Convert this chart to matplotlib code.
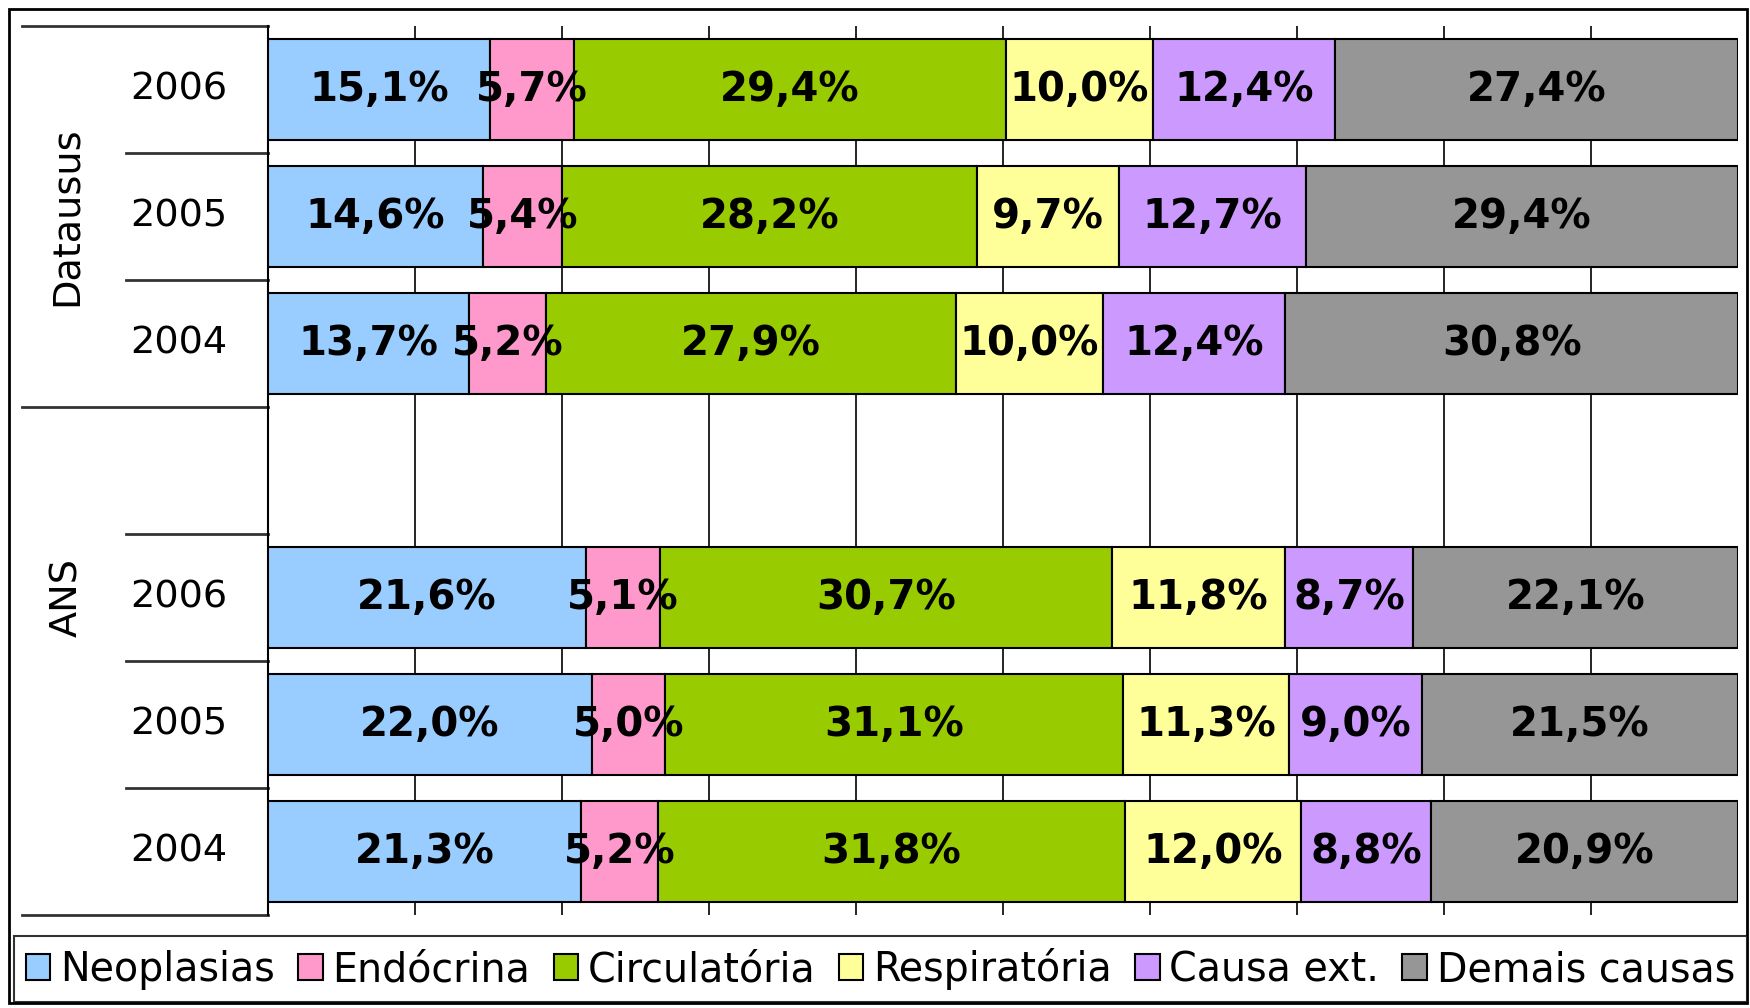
import matplotlib.pyplot as plt
from matplotlib.patches import Rectangle

plt.rcParams['font.family'] = ['DejaVu Sans']

causes = ['Neoplasias', 'Endócrina', 'Circulatória', 'Respiratória', 'Causa ext.', 'Demais causas']
colors = ['#99CCFF', '#FF99CC', '#99CC00', '#FFFF99', '#CC99FF', '#969696']

groups = ['Datausus', 'ANS']
years = ['2006', '2005', '2004']

# valores em %, uma lista por linha (de cima para baixo)
datasus_2006 = [15.1, 5.7, 29.4, 10.0, 12.4, 27.4]
datasus_2005 = [14.6, 5.4, 28.2, 9.7, 12.7, 29.4]
datasus_2004 = [13.7, 5.2, 27.9, 10.0, 12.4, 30.8]
ans_2006 = [21.6, 5.1, 30.7, 11.8, 8.7, 22.1]
ans_2005 = [22.0, 5.0, 31.1, 11.3, 9.0, 21.5]
ans_2004 = [21.3, 5.2, 31.8, 12.0, 8.8, 20.9]

# linha 3 fica vazia (separa os grupos)
rows = {0: datasus_2006, 1: datasus_2005, 2: datasus_2004,
        4: ans_2006, 5: ans_2005, 6: ans_2004}

W, H = 1750, 1008
fig = plt.figure(figsize=(W / 100, H / 100), dpi=100)
fig.patches.append(Rectangle((9 / W, 5 / H), 1738 / W, 994 / H, transform=fig.transFigure,
                             fill=False, edgecolor='black', linewidth=2))

left, right, top, bottom = 268, 1738, 26, 915
ax = fig.add_axes([left / W, 1 - bottom / H, (right - left) / W, (bottom - top) / H])

for ypos, vals in rows.items():
    total = sum(vals)
    start = 0
    for val, col in zip(vals, colors):
        w = val / total * 100
        ax.barh(ypos, w, left=start, height=0.8, color=col, edgecolor='black', linewidth=1.5, zorder=3)
        ax.text(start + w / 2, ypos, f"{val:.1f}%".replace('.', ','), ha='center', va='center',
                fontsize=29, fontweight='bold', zorder=4)
        start += w

ax.set_xlim(0, 100)
ax.set_ylim(6.5, -0.5)
for x in range(10, 100, 10):
    ax.axvline(x, color='black', linewidth=1.2, zorder=1)
ax.set_xticks([])
ax.set_yticks([])
for s in ['top', 'right', 'bottom']:
    ax.spines[s].set_visible(False)
ax.spines['left'].set_linewidth(1.5)

# rótulos hierárquicos à esquerda
tr = ax.get_yaxis_transform()
x_outer = (22 - left) / (right - left)
x_inner = (126 - left) / (right - left)
for yb in [-0.5, 2.5, 6.5]:
    ax.plot([x_outer, 0], [yb, yb], transform=tr, color='#333333', linewidth=2, clip_on=False)
for yb in [0.5, 1.5, 3.5, 4.5, 5.5]:
    ax.plot([x_inner, 0], [yb, yb], transform=tr, color='#333333', linewidth=2, clip_on=False)

x_year = (179 - left) / (right - left)
for i, yr in enumerate(years):
    ax.text(x_year, i, yr, transform=tr, ha='center', va='center', fontsize=27.5)
    ax.text(x_year, i + 4, yr, transform=tr, ha='center', va='center', fontsize=27.5)
x_grp = (67 - left) / (right - left)
ax.text(x_grp, 1, groups[0], transform=tr, ha='center', va='center', fontsize=27.5, rotation=90)
ax.text(x_grp, 4, groups[1], transform=tr, ha='center', va='center', fontsize=27.5, rotation=90)

handles = [Rectangle((0, 0), 1, 1, facecolor=c, edgecolor='black', linewidth=1.5) for c in colors]
leg = fig.legend(handles, causes, loc='lower left', bbox_to_anchor=(14 / W, 6 / H, 1733 / W, 67 / H),
                 mode='expand', ncol=6, fontsize=28.5, frameon=True, fancybox=False,
                 handlelength=0.62, handleheight=0.62, handletextpad=0.25, columnspacing=0.3,
                 borderpad=0.3, borderaxespad=0)
leg.get_frame().set_edgecolor('black')
leg.get_frame().set_linewidth(1.5)

fig.savefig('out.png', dpi=100)
